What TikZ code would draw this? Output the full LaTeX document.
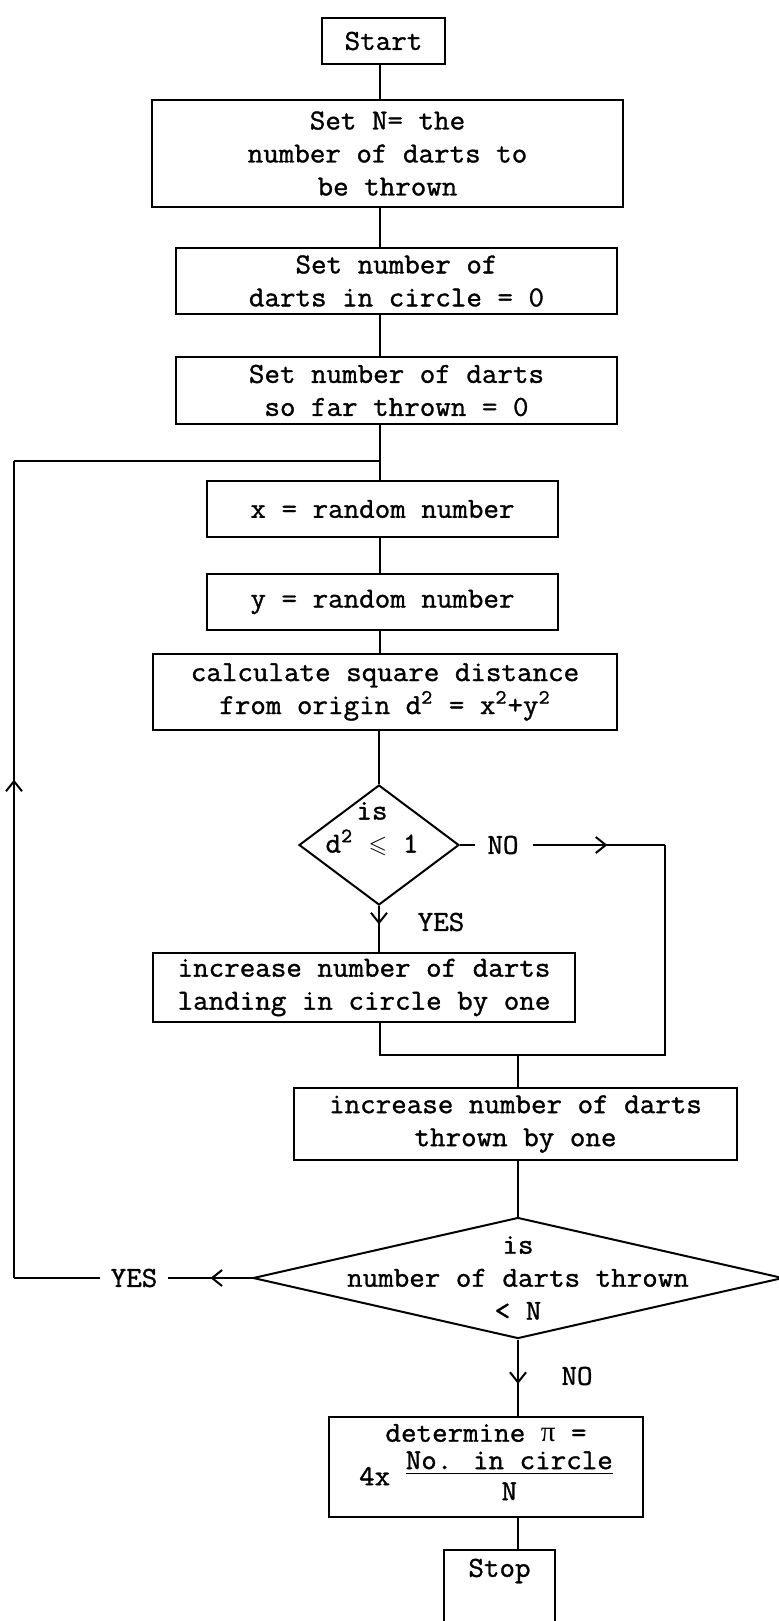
\documentclass[tikz,border=0pt]{standalone}
\usepackage{fontspec}
\usepackage{amssymb}
\usetikzlibrary{shapes.geometric,arrows.meta,decorations.markings}
\newfontfamily\tw[FakeBold=1.2,FakeStretch=1.04]{Latin Modern Mono}
\newfontfamily\grk{Liberation Serif}
\begin{document}
\begin{tikzpicture}[x=0.5pt,y=-0.5pt,
  every node/.style={font=\tw\fontsize{14.5}{16.5}\selectfont},
  box/.style={draw, line width=1pt, inner sep=0pt, align=center},
  dec/.style={draw, diamond, line width=1pt, inner sep=0pt},
  lbl/.style={inner sep=1pt},
  flow/.style={line width=1pt},
  midarrow/.style={postaction={decorate}, decoration={markings, mark=at position #1 with {\arrow{Straight Barb[length=5pt,width=8pt,line width=1pt]}}}}
]
\fill[white] (0,0) rectangle (778,1621);
\useasboundingbox (0,0) rectangle (778,1621);

% boxes
\node[box, minimum width=61.5pt, minimum height=23pt] (start) at (383.5,41) {Start};
\node[box, minimum width=235.5pt, minimum height=53.5pt] (setN) at (387.5,153.5) {Set N= the\\number of darts to\\be thrown};
\node[box, minimum width=220.5pt, minimum height=33pt] (incirc) at (396.5,281) {Set number of\\darts in circle = 0};
\node[box, minimum width=220.5pt, minimum height=33.5pt] (zero) at (396.5,390.5) {Set number of darts\\so far thrown = 0};
\node[box, minimum width=175.5pt, minimum height=28pt] (xrand) at (382.5,509) {x = random number};
\node[box, minimum width=175.5pt, minimum height=28pt] (yrand) at (382.5,602) {y = random number};
\node[box, minimum width=232pt, minimum height=38pt] (calc) at (385,692) {calculate square distance\\from origin d\textsuperscript{2} = x\textsuperscript{2}+y\textsuperscript{2}};
\node[dec, minimum width=80pt, minimum height=60pt] (d1) at (379,845) {};
\node (d1txt) at (372,829) [align=center] {is\\d\textsuperscript{2} {\large$\leqslant$} 1};
\node[box, minimum width=211pt, minimum height=34.5pt] (landing) at (364,987.5) {increase number of darts\\landing in circle by one};
\node[box, minimum width=221.5pt, minimum height=36pt] (thrown) at (515.5,1124) {increase number of darts\\thrown by one};
\node[dec, minimum width=265pt, minimum height=60.5pt] (d2) at (518,1278) {};
\node (d2txt) at (518,1278) [align=center] {is\\number of darts thrown\\< N};
\node[box, minimum width=157pt, minimum height=50pt] (det) at (486,1467) {determine {\grk π} =\\[1pt]4x \begin{tabular}[c]{@{}c@{}}\underline{No. in circle}\\[-1pt] N\end{tabular}};
\node[box, minimum width=55.5pt, minimum height=50pt] (stop) at (499.5,1600) {};
\node (stoptxt) at (499.5,1571) {Stop};

% labels
\node[lbl] (yes1) at (441,922) {YES};
\node[lbl] (no1) at (503,845) {NO};
\node[lbl] (yes2) at (134,1278) {YES};
\node[lbl] (no2) at (577,1376) {NO};

% coordinates
\coordinate (junc) at (380,461);
\coordinate (rtop) at (665,845);
\coordinate (mergeR) at (665,1055);
\coordinate (mergeL) at (380,1055);
\coordinate (lbot) at (14,1278);
\coordinate (ltop) at (14,461);

% connectors
\draw[flow] (start.south -| junc) -- (setN.north -| junc);
\draw[flow] (setN.south -| junc) -- (incirc.north -| junc);
\draw[flow] (incirc.south -| junc) -- (zero.north -| junc);
\draw[flow] (zero.south -| junc) -- (xrand.north -| junc);
\draw[flow] (xrand.south -| junc) -- (yrand.north -| junc);
\draw[flow] (yrand.south -| junc) -- (calc.north -| junc);
\draw[flow] (calc.south -| d1) -- (d1.north);
\draw[flow, midarrow=0.4] (d1.south) -- (landing.north -| d1);
\draw[flow, shorten >=5pt] (d1.east) -- (no1.west);
\draw[flow, shorten <=6pt, midarrow=0.6] (no1.east) -- (rtop);
\draw[flow] (landing.south -| mergeL) -- (mergeL) -- (mergeR) -- (rtop);
\draw[flow] (mergeL -| d2) -- (thrown.north -| d2);
\draw[flow] (thrown.south -| d2) -- (d2.north);
\draw[flow, shorten >=4pt, midarrow=0.45] (d2.west) -- (yes2.east);
\draw[flow, shorten <=4pt] (yes2.west) -- (lbot);
\draw[flow, midarrow=0.61] (lbot) -- (ltop);
\draw[flow] (ltop) -- (junc);
\draw[flow, midarrow=0.58] (d2.south) -- (det.north -| d2);
\draw[flow] (det.south -| d2) -- (stop.north -| d2);
\end{tikzpicture}
\end{document}
